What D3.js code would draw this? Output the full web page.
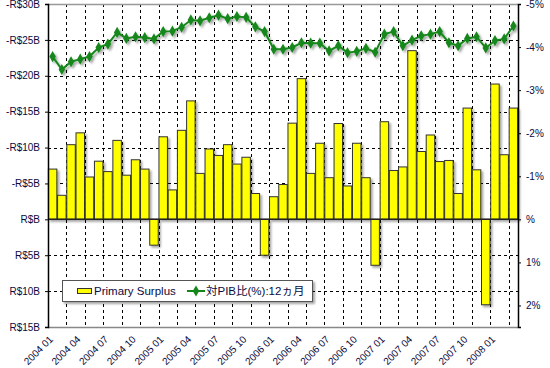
<!DOCTYPE html>
<html>
<head>
<meta charset="utf-8">
<script src="https://cdn.jsdelivr.net/npm/d3@7"></script>
<style>
  body { margin: 0; background: #fff; }
  svg { display: block; font-family: "Liberation Sans", Arial, sans-serif; }
</style>
</head>
<body>
<svg id="chart" width="550" height="368"></svg>
<script>
// months Jan 2004 .. Mar 2008
const months = [];
for (let y = 2004; y <= 2008; y++) {
  for (let m = 1; m <= 12; m++) {
    if (y === 2008 && m > 3) break;
    months.push(y + ' ' + String(m).padStart(2, '0'));
  }
}

// primary surplus, R$ billions (positive = surplus, drawn upward)
const surplus = [
  7.0, 3.35, 10.4, 12.05, 5.9, 8.1, 6.65, 11.0, 6.15, 8.3, 7.0, -3.6,
  11.5, 4.1, 12.4, 16.5, 6.4, 9.8, 8.9, 10.4, 7.7, 8.65, 3.6, -5.0,
  3.15, 4.85, 13.4, 19.6, 6.4, 10.6, 5.8, 13.35, 4.65, 10.6, 5.8, -6.4,
  13.6, 6.8, 7.3, 23.5, 9.45, 11.75, 8.05, 8.2, 3.6, 15.5, 6.9, -11.9,
  18.85, 9.0, 15.5
];

// 12-month surplus as % of GDP (shown negative on the right axis)
const pibRatio = [
  -3.78, -3.48, -3.66, -3.72, -3.78, -3.99, -4.07, -4.34, -4.20, -4.24, -4.22, -4.19,
  -4.36, -4.37, -4.46, -4.63, -4.61, -4.68, -4.74, -4.66, -4.71, -4.69, -4.47, -4.36,
  -3.95, -3.95, -3.99, -4.10, -4.09, -4.09, -3.91, -4.03, -3.87, -3.90, -3.97, -3.88,
  -4.30, -4.36, -4.03, -4.16, -4.26, -4.30, -4.36, -4.10, -4.03, -4.20, -4.24, -3.98,
  -4.15, -4.19, -4.49
];

const leftTicks = [-30, -25, -20, -15, -10, -5, 0, 5, 10, 15];
const leftLabels = ['-R$30B', '-R$25B', '-R$20B', '-R$15B', '-R$10B', '-R$5B', 'R$B', 'R$5B', 'R$10B', 'R$15B'];
const rightTicks = [-5, -4, -3, -2, -1, 0, 1, 2];
const rightLabels = ['-5%', '-4%', '-3%', '-2%', '-1%', '%', '1%', '2%'];
const seriesNames = ['Primary Surplus', '対PIB比(%):12ヵ月'];

const textColor = '#0a0a3c';
const plot = { left: 48, right: 518, top: 4, bottom: 327 };

const svg = d3.select('#chart');

const defs = svg.append('defs');
const shadow = defs.append('filter').attr('id', 'shadow')
  .attr('x', '-20%').attr('y', '-20%').attr('width', '160%').attr('height', '160%');
shadow.append('feDropShadow')
  .attr('dx', 2).attr('dy', 2).attr('stdDeviation', 1.3)
  .attr('flood-color', '#000').attr('flood-opacity', 0.35);

const x = d3.scaleBand()
  .domain(months)
  .range([plot.left, plot.right])
  .paddingInner(0.08)
  .paddingOuter(0.04);

const yLeft = d3.scaleLinear().domain([-30, 15]).range([plot.top, plot.bottom]);
const yRight = d3.scaleLinear().domain([-5, 2.5]).range([plot.top, plot.bottom]);

// plot background
svg.append('rect')
  .attr('x', plot.left).attr('y', plot.top)
  .attr('width', plot.right - plot.left).attr('height', plot.bottom - plot.top)
  .attr('fill', '#fff');

// grid
const step = x.step();
const grid = svg.append('g')
  .attr('stroke', '#000').attr('stroke-width', 1).attr('stroke-dasharray', '3,3');

grid.selectAll('line.h')
  .data(leftTicks.filter(d => d > -30 && d < 15))
  .join('line')
  .attr('x1', plot.left).attr('x2', plot.right)
  .attr('y1', d => Math.round(yLeft(d)) + 0.5)
  .attr('y2', d => Math.round(yLeft(d)) + 0.5);

grid.selectAll('line.v')
  .data(months.filter((m, i) => i > 0 && i % 2 === 0))
  .join('line')
  .attr('x1', d => Math.round(x(d) - step * 0.04) + 0.5)
  .attr('x2', d => Math.round(x(d) - step * 0.04) + 0.5)
  .attr('y1', plot.top).attr('y2', plot.bottom);

// frame: top and bottom gray
svg.append('line')
  .attr('x1', plot.left).attr('x2', plot.right)
  .attr('y1', plot.top + 0.5).attr('y2', plot.top + 0.5)
  .attr('stroke', '#999').attr('stroke-width', 1.5);
svg.append('line')
  .attr('x1', plot.left).attr('x2', plot.right)
  .attr('y1', plot.bottom + 0.5).attr('y2', plot.bottom + 0.5)
  .attr('stroke', '#888').attr('stroke-width', 1.5);

// bars
svg.append('g')
  .attr('filter', 'url(#shadow)')
  .selectAll('rect')
  .data(surplus)
  .join('rect')
  .attr('x', (d, i) => x(months[i]))
  .attr('width', x.bandwidth())
  .attr('y', d => Math.min(yLeft(-d), yLeft(0)))
  .attr('height', d => Math.abs(yLeft(-d) - yLeft(0)))
  .attr('fill', '#ffff00')
  .attr('stroke', '#333')
  .attr('stroke-width', 1);

// zero line
svg.append('line')
  .attr('x1', plot.left).attr('x2', plot.right)
  .attr('y1', yLeft(0)).attr('y2', yLeft(0))
  .attr('stroke', '#222').attr('stroke-width', 1.5);

// line series
const lineGen = d3.line()
  .x((d, i) => x(months[i]) + x.bandwidth() / 2)
  .y(d => yRight(d));

const lineG = svg.append('g').attr('filter', 'url(#shadow)');
lineG.append('path')
  .datum(pibRatio)
  .attr('d', lineGen)
  .attr('fill', 'none')
  .attr('stroke', '#15871a')
  .attr('stroke-width', 2);

const diamond = d3.symbol().type(d3.symbolDiamond).size(36);
lineG.selectAll('path.pt')
  .data(pibRatio)
  .join('path')
  .attr('class', 'pt')
  .attr('d', diamond)
  .attr('transform', (d, i) => `translate(${x(months[i]) + x.bandwidth() / 2},${yRight(d)})`)
  .attr('fill', '#15871a');

// left axis
const axL = svg.append('g')
  .attr('transform', `translate(${plot.left},0)`)
  .call(d3.axisLeft(yLeft).tickValues(leftTicks).tickSize(3).tickPadding(5)
    .tickFormat((d, i) => leftLabels[i]));
axL.select('.domain').attr('stroke', '#000').attr('stroke-width', 1.5);
axL.selectAll('.tick line').attr('stroke', '#000');
axL.selectAll('.tick text').attr('fill', textColor).style('font-size', '10px');

// right axis
const axR = svg.append('g')
  .attr('transform', `translate(${plot.right},0)`)
  .call(d3.axisRight(yRight).tickValues(rightTicks).tickSize(3).tickPadding(5)
    .tickFormat((d, i) => rightLabels[i]));
axR.select('.domain').attr('stroke', '#000').attr('stroke-width', 1.5);
axR.selectAll('.tick line').attr('stroke', '#000');
axR.selectAll('.tick text').attr('fill', textColor).style('font-size', '10px');

// x labels
svg.append('g')
  .selectAll('text')
  .data(months.filter((m, i) => i % 3 === 0))
  .join('text')
  .attr('transform', d => `translate(${x(d) + x.bandwidth() / 2 + 1},${plot.bottom + 13}) rotate(-45)`)
  .attr('text-anchor', 'end')
  .attr('fill', textColor)
  .style('font-size', '10px')
  .text(d => d);

// legend
const lg = svg.append('g');
lg.append('rect')
  .attr('x', 62.5).attr('y', 280.5).attr('width', 250).attr('height', 21)
  .attr('fill', '#fff').attr('stroke', '#555').attr('stroke-width', 1)
  .attr('filter', 'url(#shadow)');
lg.append('rect')
  .attr('x', 77.5).attr('y', 288.5).attr('width', 14).attr('height', 5)
  .attr('fill', '#ffff00').attr('stroke', '#333');
lg.append('text')
  .attr('x', 94).attr('y', 295)
  .attr('fill', textColor).style('font-size', '11.5px')
  .text(seriesNames[0]);
lg.append('line')
  .attr('x1', 187).attr('x2', 205).attr('y1', 291).attr('y2', 291)
  .attr('stroke', '#15871a').attr('stroke-width', 2);
lg.append('path')
  .attr('d', diamond)
  .attr('transform', 'translate(196,291)')
  .attr('fill', '#15871a');
lg.append('text')
  .attr('x', 206).attr('y', 295)
  .attr('fill', textColor)
  .style('font-family', '"Liberation Sans", "Noto Sans CJK JP", sans-serif')
  .style('font-size', '11.5px')
  .text(seriesNames[1]);
</script>
</body>
</html>
